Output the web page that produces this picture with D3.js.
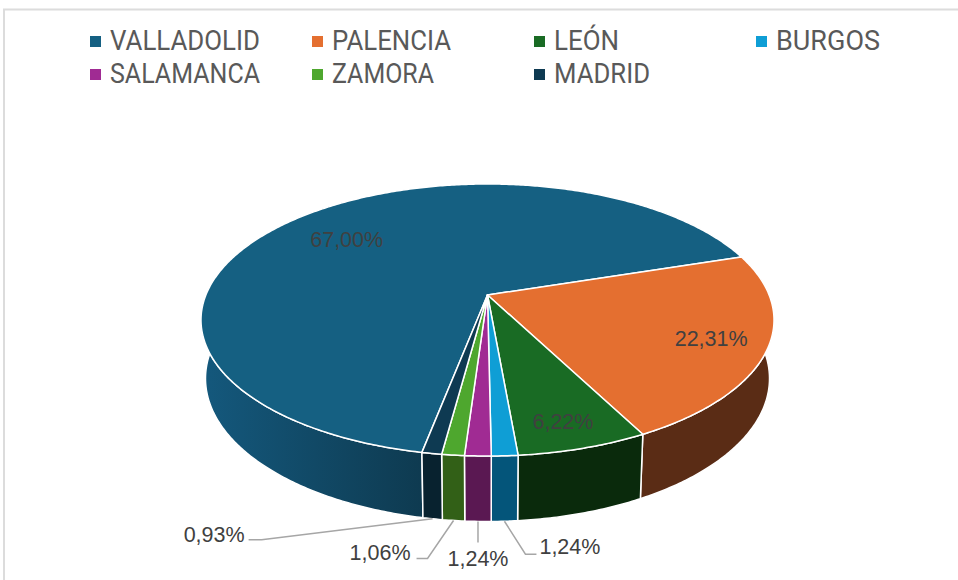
<!DOCTYPE html>
<html>
<head>
<meta charset="utf-8">
<script src="https://cdn.jsdelivr.net/npm/d3@7"></script>
<style>
  html, body { margin: 0; padding: 0; background: #fff; }
  svg { display: block; }
</style>
</head>
<body>
<script>
const provinces = ['VALLADOLID', 'PALENCIA', 'LEÓN', 'BURGOS', 'SALAMANCA', 'ZAMORA', 'MADRID'];
const shares = [67.00, 22.31, 6.22, 1.24, 1.24, 1.06, 0.93];
const shareLabels = ['67,00%', '22,31%', '6,22%', '1,24%', '1,24%', '1,06%', '0,93%'];
const topColors = ['#156082', '#e46f30', '#196b24', '#0f9ed5', '#a02b93', '#4ea72e', '#0e3a52'];
const sideColors = ['#0e3a50', '#5a2c15', '#0a2a0c', '#04557a', '#5a1852', '#326017', '#08222f'];

const w = 958, h = 580;

const svg = d3.select('body').append('svg')
  .attr('width', w)
  .attr('height', h);

// frame, only top and left show
svg.append('path')
  .attr('d', d3.line()([[4, h], [4, 9.5], [w, 9.5]]))
  .attr('fill', 'none')
  .attr('stroke', '#dcdcdc')
  .attr('stroke-width', 2);

// legend
const legendCol = d3.scalePoint().domain([0, 1, 2, 3]).range([90, 756]);
const legendRow = d3.scalePoint().domain([0, 1]).range([41.5, 74.5]);
// the original font is narrower than anything installed, so squeeze the text to its width
const legendTextWidth = [150, 119, 65, 104, 150, 102, 96];

const legend = svg.selectAll('g.legend')
  .data(provinces)
  .enter()
  .append('g')
  .attr('class', 'legend')
  .attr('transform', (d, i) => `translate(${legendCol(i % 4)},${legendRow(Math.floor(i / 4))})`);

legend.append('rect')
  .attr('y', -5.5)
  .attr('width', 11)
  .attr('height', 11)
  .attr('fill', (d, i) => topColors[i]);

legend.append('text')
  .attr('x', 20)
  .attr('y', 8.5)
  .attr('font-family', 'Roboto, sans-serif')
  .attr('font-size', 27)
  .attr('textLength', (d, i) => legendTextWidth[i])
  .attr('lengthAdjust', 'spacingAndGlyphs')
  .attr('fill', '#595959')
  .text(d => d);

// pie geometry: the disc is seen in perspective, so its centre sits above the ellipse centre
const topEllipse = { cx: 487.5, cy: 320, rx: 286.5, ry: 136 };
const bottomEllipse = { cx: 487.5, cy: 378.5, rx: 282, ry: 143 };
const k = 0.184;

function project(angle, r, e) {
  const x = r * Math.sin(angle);
  const y = -r * Math.cos(angle);
  const div = 1 - k * y;
  return [
    e.cx + e.rx * x * Math.sqrt(1 - k * k) / div,
    e.cy + e.ry * (y - k) / div
  ];
}

const firstAngle = 191 * Math.PI / 180;
const slices = d3.pie().sort(null)
  .startAngle(firstAngle)
  .endAngle(firstAngle + 2 * Math.PI)(shares);

const arcAngles = d => {
  const steps = Math.max(2, Math.ceil((d.endAngle - d.startAngle) / 0.01));
  return d3.range(steps + 1).map(i => d.startAngle + (d.endAngle - d.startAngle) * i / steps);
};

const line = d3.line();

const defs = svg.append('defs');
const sideGrad = defs.append('linearGradient')
  .attr('id', 'sideGrad')
  .attr('gradientUnits', 'userSpaceOnUse')
  .attr('x1', 205).attr('x2', 424)
  .attr('y1', 0).attr('y2', 0);
sideGrad.append('stop').attr('offset', 0).attr('stop-color', '#14587c');
sideGrad.append('stop').attr('offset', 1).attr('stop-color', '#0e3a50');

// sides first, the top disc covers whatever is behind it
svg.selectAll('path.side')
  .data(slices)
  .enter()
  .append('path')
  .attr('class', 'side')
  .attr('d', d => {
    const a = arcAngles(d);
    return line(a.map(t => project(t, 1, topEllipse))
      .concat(a.slice().reverse().map(t => project(t, 1, bottomEllipse)))) + 'Z';
  })
  .attr('fill', (d, i) => i === 0 ? 'url(#sideGrad)' : sideColors[i])
  .attr('stroke', '#fff')
  .attr('stroke-width', 1.5)
  .attr('stroke-linejoin', 'round');

svg.selectAll('path.top')
  .data(slices)
  .enter()
  .append('path')
  .attr('class', 'top')
  .attr('d', d => line([project(0, 0, topEllipse)].concat(arcAngles(d).map(t => project(t, 1, topEllipse)))) + 'Z')
  .attr('fill', (d, i) => topColors[i])
  .attr('stroke', '#fff')
  .attr('stroke-width', 1.5)
  .attr('stroke-linejoin', 'round');

// labels that sit on the disc: how far out along the mid angle, plus a small nudge
const insideRadius = [0.7, 0.81, 0.845];
const insideNudge = [-5, 0, -3];

// outside labels: knee and text end of the leader, relative to where it leaves the pie
const leaders = {
  3: { knee: [21, 33], end: [32, 33], anchor: 'start', dx: 3, dy: -7 },
  4: { knee: [0, 21], end: [0, 21], anchor: 'middle', dx: 0, dy: 17 },
  5: { knee: [-26, 38], end: [-37, 38], anchor: 'end', dx: -6, dy: -5 },
  6: { knee: [-171, 21], end: [-184, 21], anchor: 'end', dx: -4, dy: -5 }
};

const labelStyle = sel => sel
  .attr('font-family', '"Liberation Sans", Arial, sans-serif')
  .attr('font-size', 21.5)
  .attr('fill', '#404040')
  .attr('dominant-baseline', 'central');

slices.forEach((d, i) => {
  const mid = (d.startAngle + d.endAngle) / 2;
  if (i < insideRadius.length) {
    const p = project(mid, insideRadius[i], topEllipse);
    svg.append('text')
      .call(labelStyle)
      .attr('x', p[0] + insideNudge[i])
      .attr('y', p[1] + 1.5)
      .attr('text-anchor', 'middle')
      .text(shareLabels[i]);
    return;
  }
  const from = project(mid, 1, bottomEllipse);
  const lead = leaders[i];
  const knee = [from[0] + lead.knee[0], from[1] + lead.knee[1]];
  const end = [from[0] + lead.end[0], from[1] + lead.end[1]];
  svg.append('path')
    .attr('d', line([from, knee, end]))
    .attr('fill', 'none')
    .attr('stroke', '#a6a6a6')
    .attr('stroke-width', 1.5);
  svg.append('text')
    .call(labelStyle)
    .attr('x', end[0] + lead.dx)
    .attr('y', end[1] + lead.dy)
    .attr('text-anchor', lead.anchor)
    .text(shareLabels[i]);
});
</script>
</body>
</html>
